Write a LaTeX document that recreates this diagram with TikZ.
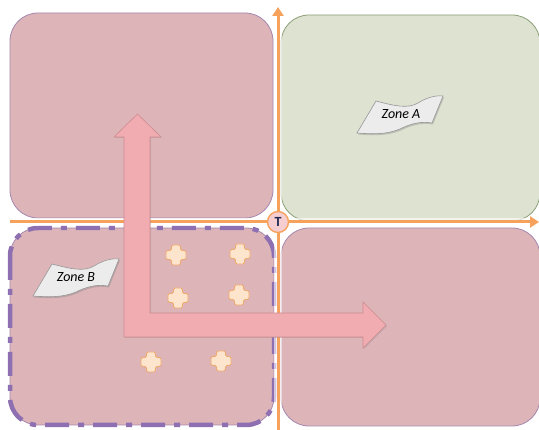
\documentclass[tikz,border=0pt]{standalone}
\usepackage{fontspec}
\setsansfont{Carlito}
\usetikzlibrary{arrows.meta,shadows}
\definecolor{pinkbox}{RGB}{221,181,184}
\definecolor{greenbox}{RGB}{221,226,209}
\definecolor{pinkedge}{RGB}{165,135,175}
\definecolor{greenedge}{RGB}{140,160,120}
\definecolor{axisor}{RGB}{246,162,92}
\definecolor{arrowfill}{RGB}{241,172,177}
\definecolor{arrowedge}{RGB}{205,140,145}
\definecolor{dashpurple}{RGB}{142,112,178}
\definecolor{crossfill}{RGB}{253,228,205}
\definecolor{crossedge}{RGB}{240,170,110}
\definecolor{tfill}{RGB}{246,205,208}
\definecolor{tnavy}{RGB}{30,40,80}
\definecolor{bannerfill}{RGB}{236,236,236}
\definecolor{banneredge}{RGB}{150,150,150}
\tikzset{
  quad/.style={rounded corners=28pt, inner sep=0pt, outer sep=0pt, line width=0.8pt},
  pinkquad/.style={quad, fill=pinkbox, draw=pinkedge},
  greenquad/.style={quad, fill=greenbox, draw=greenedge},
  axisline/.style={draw=axisor, line width=3pt, -{Triangle[length=9pt,width=11pt]}},
  blockarrow/.style={fill=arrowfill, draw=arrowedge, line width=0.6pt, drop shadow={opacity=0.25, shadow xshift=1pt, shadow yshift=-1pt}},
  crossstyle/.style={fill=crossfill, draw=crossedge, line width=0.8pt, rounded corners=1.5pt},
  bannerstyle/.style={fill=bannerfill, draw=banneredge, line width=0.6pt, drop shadow={opacity=0.35, shadow xshift=1pt, shadow yshift=-1.5pt}},
  bannertext/.style={font=\sffamily\itshape\fontsize{14}{15}\selectfont, text=black, inner sep=0pt},
  zonedash/.style={draw=dashpurple, line width=4.5pt, rounded corners=28pt, dash pattern=on 24pt off 9pt on 6pt off 9pt},
  tcircle/.style={circle, fill=tfill, draw=axisor, line width=1.4pt, minimum size=21pt, inner sep=0pt, font=\sffamily\bfseries\fontsize{14}{14}\selectfont, text=tnavy}
}
\begin{document}
\begin{tikzpicture}[x=1pt,y=-1pt]
\useasboundingbox[fill=white] (0,0) rectangle (539,430);
% quadrants
\node[pinkquad, minimum width=263pt, minimum height=205pt] (tl) at (141.5,115.5) {};
\node[greenquad, minimum width=259pt, minimum height=206pt] (tr) at (410.5,118) {};
\node[pinkquad, minimum width=264pt, minimum height=197pt] (bl) at (142,326.5) {};
\node[pinkquad, minimum width=259pt, minimum height=198pt] (br) at (410.5,327) {};
% zone B dashed border
\draw[zonedash] (bl.north west) rectangle (bl.south east);
% axes
\coordinate (hstart) at (10,222);
\coordinate (hend) at (539,222);
\coordinate (vstart) at (278,432);
\coordinate (vend) at (278,7);
\draw[white, line width=8pt, opacity=0.6] (hstart) -- (hend);
\draw[white, line width=8pt, opacity=0.6] (vstart) -- (vend);
\draw[axisline] (hstart) -- (hend);
\draw[axisline] (vstart) -- (vend);
\node[tcircle] (T) at (278,222) {T};
% block arrow
\draw[blockarrow] (124,337) -- (124,137) -- (114,137) -- (137.5,114) -- (161,137) -- (150,137)
  -- (150,313) -- (363,313) -- (363,302) -- (386,325) -- (363,348) -- (363,337) -- cycle;
% crosses
\foreach \cx/\cy in {176/255, 240/254, 178/298, 239/295, 151/362, 221/361}{
  \draw[crossstyle, shift={(\cx,\cy)}] (-4.5,-10) -- (4.5,-10) -- (4.5,-4.5) -- (10,-4.5) -- (10,4.5) -- (4.5,4.5)
    -- (4.5,10) -- (-4.5,10) -- (-4.5,4.5) -- (-10,4.5) -- (-10,-4.5) -- (-4.5,-4.5) -- cycle;
}
% banners
\foreach \bx/\by in {400/115, 76/278}{
  \draw[bannerstyle, shift={(\bx,\by)}] (-24,-14) .. controls (-5,-9) and (8,-6) .. (18,-12)
    .. controls (26,-17) and (35,-20) .. (43,-19) -- (32,8)
    .. controls (20,6) and (10,9) .. (0,14) .. controls (-14,20) and (-30,19) .. (-43,18) -- cycle;
}
\node[bannertext] (zoneA) at (401,114) {Zone A};
\node[bannertext] (zoneB) at (76,277) {Zone B};
\end{tikzpicture}
\end{document}
